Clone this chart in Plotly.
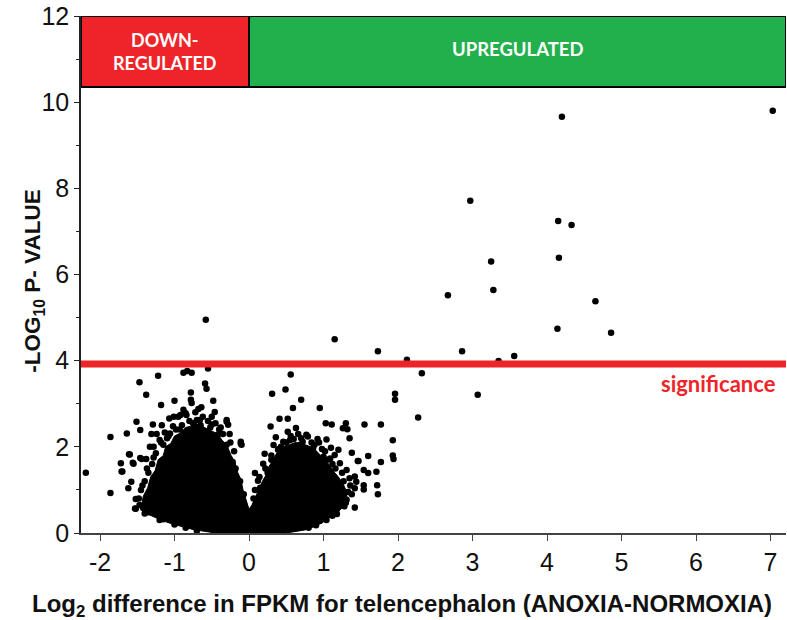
import plotly.graph_objects as go

# ---------------- data ----------------
# isolated genes (log2 fold difference, -log10 p)
pt_x = [4.20, 7.03, 2.97, 4.15, 4.33, 3.25, 4.16, 2.67, 3.28, 4.65, 4.14, 4.86, 2.86, 2.12, 3.35, 3.56, 2.32, 3.07, 1.15, 1.73, -0.58,
        1.96, 1.96, 2.27, 0.56, 0.31, 0.49, 0.70, 0.59, 0.95, 0.41, 0.52, 0.29, 0.63, 1.03, 1.11, 1.30, 1.55, 1.77, 1.26, 1.32, 1.35,
        1.93, 1.93, 1.94, 1.77, 1.60, 1.46, 1.71, 1.73, 1.42, 1.04, 1.18, 1.38, 1.72, 1.54, 1.44, 1.60, 0.21, 0.19, 0.08, 0.12, -0.11, -0.10,
        0.56, 0.46, 0.79, 0.94, 1.04, 1.20, 1.15, 1.47, 1.54, 1.42, 1.42, 1.54, 1.31, 0.33, 0.39, 0.68, 0.86, 1.00, 1.09, 1.22, 1.31, 1.35,
        -0.83, -0.88, -0.77, -0.55, -1.22, -1.47, -1.38, -0.59, -0.57, -0.78, -1.00, -1.18, -0.78, -0.77, -0.48, -1.86, -2.19, -1.86,
        -1.64, -1.46, -1.51, -1.29, -1.17, -1.31, -1.24, -1.60, -1.72, -1.71, -1.55, -1.58, -1.62, -1.52, -1.52, -1.42, -1.06, -0.88,
        -1.46, -1.38, -1.33, -1.28, -1.07, -1.01, -0.92, -0.85, -0.68, -0.46, -0.30, -0.28, -0.11, -1.20, -1.06, -0.95, -0.84, -0.30,
        -1.44, -1.56, -1.61, -1.70, -1.53,
        -0.70, -0.62, -0.55, -0.50, -0.40, -0.35, -0.25, -0.20, -0.90, -0.98, -1.10, -1.15, -1.25, -1.30, -1.35, -1.40, -1.45, -1.48,
        -1.40, -1.20, -0.75, -0.65, -0.45, -0.58,
        0.25, 0.30, 0.40, 0.50, 0.60, 0.72, 0.88, 1.02, 1.12, 1.25, 1.36, 1.38, 1.28, 1.12, 0.90, 0.15, 0.06,
        -1.47, -1.43, -1.37, -1.28, -1.18, -1.08, -0.93, -0.80, -0.66, -0.52, -0.42, -0.30, -0.22, -0.18, -0.12, -0.07,
        0.08, 0.14, 0.22, 0.30, 0.43, 0.55, 0.70, 0.84, 0.98, 1.05, 1.16, 1.27, 1.33, 1.30, 1.17, 0.95, 0.80,
        -1.35, -1.15, -1.00, -0.85, -0.70,
        -0.88, -0.72, -0.64, -0.50, -0.38, -1.02, -1.13, -0.26, 0.36, 0.52, 0.66, 0.77, 0.92, 1.10]
pt_y = [9.66, 9.80, 7.71, 7.24, 7.15, 6.30, 6.39, 5.52, 5.64, 5.38, 4.74, 4.65, 4.22, 4.02, 3.99, 4.11, 3.71, 3.21, 4.50, 4.22, 4.95,
        3.23, 3.09, 2.68, 3.68, 3.23, 3.33, 3.09, 2.90, 2.90, 2.65, 2.65, 2.47, 2.44, 2.55, 2.52, 2.55, 2.52, 2.52, 2.43, 2.41, 2.20,
        2.15, 1.80, 1.72, 1.65, 1.79, 1.67, 1.42, 0.90, 0.59, 0.30, 0.44, 1.86, 1.11, 1.11, 1.19, 1.39, 1.84, 1.61, 1.39, 1.21, 2.12, 2.05,
        2.25, 2.12, 2.24, 2.10, 2.17, 1.93, 1.81, 1.67, 1.46, 1.31, 1.04, 1.01, 0.77, 2.04, 1.93, 2.04, 1.97, 1.77, 1.73, 1.62, 1.46, 1.27,
        3.76, 3.72, 3.72, 3.82, 3.65, 3.50, 3.21, 3.47, 3.35, 3.26, 3.07, 2.97, 3.09, 3.02, 3.07, 2.23, 1.40, 0.93,
        2.31, 2.39, 2.58, 2.52, 2.50, 2.30, 2.30, 1.82, 1.62, 1.43, 1.61, 1.19, 1.04, 0.79, 0.56, 0.58, 0.38, 0.25,
        1.74, 1.72, 2.00, 2.00, 2.66, 2.70, 2.74, 2.78, 2.88, 2.81, 2.62, 2.51, 2.08, 2.16, 2.31, 2.70, 2.74, 2.58,
        1.72, 1.63, 1.83, 1.43, 0.57,
        2.62, 2.70, 2.60, 2.52, 2.40, 2.30, 2.10, 1.90, 2.50, 2.40, 2.20, 2.05, 1.85, 1.60, 1.40, 1.20, 1.00, 0.80,
        0.45, 0.30, 2.55, 2.50, 2.55, 2.30,
        1.40, 1.70, 1.95, 2.10, 2.18, 2.12, 2.05, 1.90, 1.60, 1.40, 1.10, 0.90, 0.62, 0.40, 0.18, 1.05, 0.80,
        0.65, 1.10, 1.50, 1.75, 2.10, 2.25, 2.40, 2.60, 2.62, 2.45, 2.28, 2.05, 1.65, 1.50, 1.20, 0.90,
        1.00, 1.30, 1.50, 1.80, 2.00, 2.15, 2.20, 2.10, 1.95, 1.70, 1.50, 1.20, 0.95, 0.70, 0.50, 0.28, 0.12,
        0.48, 0.32, 0.20, 0.12, 0.05,
        2.86, 2.80, 2.92, 2.70, 2.45, 2.48, 2.33, 2.30, 2.22, 2.35, 2.30, 2.28, 2.18, 1.98]

# outline of the dense (overplotted) cloud of non-significant genes
cloud_x = [-1.45, -1.42, -1.36, -1.32, -1.26, -1.22, -1.15, -1.12, -1.05, -1.00, -0.92, -0.85, -0.78, -0.72, -0.66, -0.60,
           -0.54, -0.48, -0.42, -0.36, -0.30, -0.24, -0.19, -0.15, -0.11, -0.08, -0.03, 0.00,
           0.04, 0.10, 0.14, 0.18, 0.23, 0.27, 0.32, 0.37, 0.43, 0.48, 0.55, 0.62, 0.70, 0.80, 0.88, 0.95, 1.02, 1.08,
           1.14, 1.20, 1.26, 1.30, 1.32, 1.27, 1.20, 1.10, 1.00, 0.88, 0.75, 0.50,
           -0.45, -0.75, -0.90, -1.05, -1.18, -1.30, -1.40, -1.45]
cloud_y = [0.55, 0.85, 1.05, 1.30, 1.45, 1.70, 1.80, 2.00, 2.08, 2.25, 2.32, 2.45, 2.48, 2.55, 2.50, 2.45,
           2.40, 2.35, 2.30, 2.15, 2.05, 1.80, 1.65, 1.40, 1.25, 1.00, 0.70, 0.55,
           0.65, 0.90, 1.05, 1.20, 1.35, 1.55, 1.68, 1.85, 1.92, 2.02, 2.05, 2.10, 2.08, 2.02, 1.95, 1.82, 1.70, 1.58,
           1.42, 1.30, 1.15, 1.00, 0.78, 0.62, 0.50, 0.38, 0.26, 0.15, 0.07, 0.00,
           0.00, 0.08, 0.15, 0.22, 0.30, 0.40, 0.47, 0.55]

significance = 3.92
header_bottom = 10.35
header_top = 12
x_ticks = [-2, -1, 0, 1, 2, 3, 4, 5, 6, 7]
x_ticktext = ["-2", "-1", "0", "1", "2", "3", "4", "5", "6", "7"]
y_ticks = [0, 2, 4, 6, 8, 10, 12]
x_range = [-2.255, 7.208]
y_range = [0, 12]

RED = "#EE2428"
GREEN = "#21B04B"

fig = go.Figure()
fig.add_trace(go.Scatter(x=cloud_x, y=cloud_y, mode="lines", fill="toself",
                         fillcolor="black", line=dict(color="black", width=1),
                         hoverinfo="skip", showlegend=False))
fig.add_trace(go.Scatter(x=pt_x, y=pt_y, mode="markers",
                         marker=dict(color="black", size=6.5, line=dict(width=0)),
                         showlegend=False))

# significance line
fig.add_shape(type="line", xref="paper", x0=0, x1=1, yref="y", y0=significance, y1=significance,
              line=dict(color=RED, width=7), layer="above")
# header boxes
fig.add_shape(type="rect", xref="x", yref="y", x0=x_range[0], x1=0, y0=header_bottom, y1=header_top,
              fillcolor=RED, line=dict(color="black", width=2), layer="above")
fig.add_shape(type="rect", xref="x", yref="y", x0=0, x1=x_range[1], y0=header_bottom, y1=header_top,
              fillcolor=GREEN, line=dict(color="black", width=2), layer="above")

fig.add_annotation(x=(x_range[0] + 0) / 2, y=(header_bottom + header_top) / 2, xref="x", yref="y",
                   text="DOWN-<br>REGULATED", showarrow=False,
                   font=dict(family="Lato", size=18, color="white", weight="bold"))
fig.add_annotation(x=(0 + x_range[1]) / 2, y=(header_bottom + header_top) / 2 + 0.05, xref="x", yref="y",
                   text="UPREGULATED", showarrow=False,
                   font=dict(family="Lato", size=18.5, color="white", weight="bold"))
fig.add_annotation(x=0.9887, xref="paper", xanchor="right", y=significance - 0.45, yref="y",
                   text="significance", showarrow=False,
                   font=dict(family="Lato", size=22, color=RED, weight="bold"))

# axis titles (placed precisely in paper coordinates)
fig.add_annotation(x=0.455, y=-0.141, xref="paper", yref="paper", xanchor="center", yanchor="middle",
                   text="Log<sub>2</sub> difference in FPKM for telencephalon (ANOXIA-NORMOXIA)",
                   showarrow=False, font=dict(family="Liberation Sans", size=24, color="#111", weight="bold"))
fig.add_annotation(x=-0.066, y=0.487, xref="paper", yref="paper", xanchor="center", yanchor="middle",
                   text="-LOG<sub>10</sub> P- VALUE", textangle=-90,
                   showarrow=False, font=dict(family="Liberation Sans", size=22.5, color="#111", weight="bold"))

fig.update_layout(
    width=787, height=620,
    margin=dict(l=81, r=1, t=16, b=87, autoexpand=False),
    plot_bgcolor="white", paper_bgcolor="white",
    font=dict(family="Liberation Sans", color="#111"),
    xaxis=dict(range=x_range, tickvals=x_ticks, ticktext=x_ticktext, ticks="outside", ticklen=6, tickwidth=1.2,
               tickcolor="#444", showline=True, linecolor="#444", linewidth=1.5, automargin=False,
               showgrid=False, zeroline=False, tickfont=dict(size=25, color="#111")),
    yaxis=dict(range=y_range, tickvals=y_ticks, ticks="outside", ticklen=5, tickwidth=1.2,
               tickcolor="#222", showline=True, linecolor="#222", linewidth=1.5, automargin=False,
               showgrid=False, zeroline=False, tickfont=dict(size=25, color="#111"),
               minor=dict(dtick=1, ticks="outside", ticklen=3, tickcolor="#222")),
)

fig.write_html("out.html", config={"displayModeBar": False},
               post_script="document.body.style.margin='0';document.body.style.overflow='hidden';")
